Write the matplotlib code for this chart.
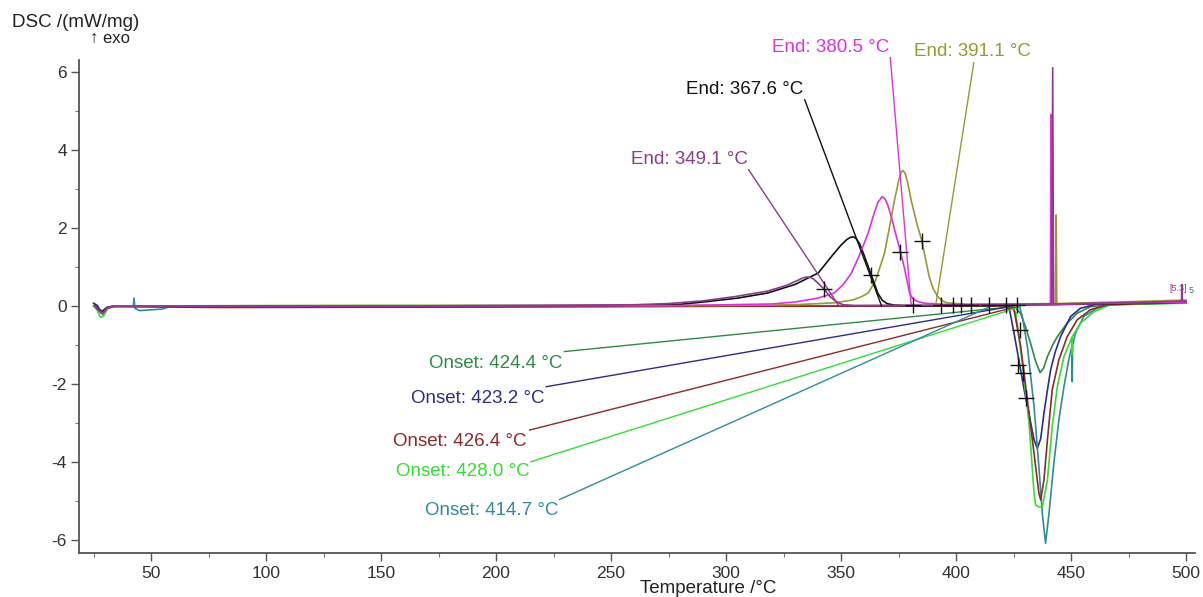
import matplotlib
matplotlib.use("Agg")
import matplotlib.pyplot as plt
from matplotlib.ticker import MultipleLocator

plt.rcParams['font.family'] = ['Liberation Sans', 'DejaVu Sans']
plt.rcParams['axes.unicode_minus'] = False

# ---- DSC curves: (temperature / °C, DSC / (mW/mg)) ----
curve_purple = [(25.5, 0.0), (27, -0.1), (29, -0.18), (31, -0.06), (34, -0.01), (80, 0.0),
                (150, 0.0), (220, 0.01), (260, 0.03), (275, 0.06), (290, 0.13), (304, 0.24),
                (318, 0.38), (326, 0.52), (331, 0.65), (333.5, 0.72), (335, 0.74), (336.8, 0.73),
                (338, 0.69), (340, 0.58), (342.7, 0.43), (345, 0.25), (348, 0.10), (351, 0.03),
                (356, 0.01), (400, 0.02), (441.6, 0.05), (442.0, 6.10), (442.4, 0.05),
                (470, 0.08), (498, 0.12), (498.2, 0.55), (498.4, 0.12), (500, 0.12)]
curve_black = [(25.5, 0.02), (27, -0.08), (29, -0.15), (31, -0.04), (34, 0.0), (150, 0.0),
               (250, 0.01), (280, 0.04), (290, 0.1), (305, 0.2), (318, 0.33), (330, 0.55),
               (340, 0.84), (347, 1.35), (350, 1.56), (352.5, 1.7), (354.2, 1.76), (355.4, 1.77),
               (356.6, 1.72), (358, 1.6), (360, 1.3), (363.2, 0.78), (366, 0.32), (368, 0.14),
               (370, 0.06), (373, 0.02), (380, 0.0), (440, 0.03), (470, 0.06), (500, 0.1)]
curve_magenta = [(25.5, 0.0), (27, -0.1), (29, -0.2), (31, -0.05), (34, 0.0), (150, 0.0),
                 (280, 0.01), (320, 0.05), (330, 0.1), (340, 0.2), (347, 0.33), (351, 0.55),
                 (354.5, 0.84), (358, 1.3), (361.8, 1.87), (364, 2.3), (366, 2.65), (367.9, 2.8),
                 (369.2, 2.74), (370.5, 2.55), (371.8, 2.29), (373.5, 1.9), (375.8, 1.39),
                 (377.5, 0.98), (379.7, 0.35), (381, 0.2), (383, 0.12), (386, 0.07), (395, 0.04),
                 (441.0, 0.04), (441.3, 4.9), (441.7, 0.04), (470, 0.07), (500, 0.1)]
curve_olive = [(25.5, 0.0), (27, -0.08), (29, -0.14), (31, -0.04), (34, 0.0), (150, 0.01),
               (300, 0.01), (330, 0.03), (347, 0.08), (355, 0.15), (359, 0.24), (361.8, 0.33),
               (365, 0.65), (368.9, 1.35), (371, 2.0), (373.2, 2.7), (375, 3.2), (376.1, 3.42),
               (376.9, 3.47), (377.8, 3.4), (379, 3.15), (380.5, 2.7), (383, 2.1), (385.1, 1.67),
               (388.3, 0.75), (390, 0.45), (392, 0.24), (394, 0.13), (396, 0.08), (405, 0.04),
               (443.2, 0.06), (443.5, 2.33), (443.8, 0.06), (470, 0.1), (500, 0.15)]
curve_darkgreen = [(25.5, 0.0), (27, -0.12), (29, -0.22), (31, -0.06), (34, 0.0), (150, -0.01),
                   (300, 0.0), (420, 0.0), (424.4, -0.02), (426, -0.06), (428, -0.19),
                   (430, -0.5), (432.4, -0.96), (434.5, -1.4), (436.5, -1.71), (438, -1.6),
                   (439.7, -1.3), (442, -1.0), (444, -0.79), (448.3, -0.44), (452.6, -0.19),
                   (458.4, -0.02), (470, 0.05), (500, 0.08)]
curve_darkblue = [(25, 0.07), (26.5, 0.02), (28.4, -0.15), (30.5, -0.05), (34, 0.0), (150, 0.0),
                  (300, 0.0), (415, 0.01), (421, 0.0), (423.2, -0.08), (425.2, -0.7),
                  (427.5, -1.45), (429.6, -2.15), (431.8, -2.8), (433.9, -3.43), (435.3, -3.65),
                  (436.8, -3.4), (438.2, -2.75), (439.6, -2.2), (441.1, -1.64), (443, -1.2),
                  (445.4, -0.79), (449.8, -0.27), (454.1, -0.06), (461.3, 0.05), (500, 0.1)]
curve_brown = [(25.5, 0.0), (27, -0.1), (29, -0.17), (31, -0.04), (34, -0.02), (80, -0.04),
               (200, -0.03), (300, -0.01), (420, 0.0), (424, -0.02), (425.2, -0.1),
               (428.1, -1.04), (431, -2.41), (433.9, -3.78), (436, -4.8), (436.8, -4.97),
               (438.2, -4.46), (439.7, -3.44), (441.8, -2.15), (444.7, -1.38), (448.3, -0.79),
               (452.6, -0.36), (458.4, -0.1), (465.6, 0.03), (500, 0.09)]
curve_green = [(25, 0.0), (26.5, -0.1), (28, -0.3), (29.5, -0.25), (31, -0.08), (34, 0.0),
               (150, 0.01), (300, 0.0), (420, 0.0), (424.5, -0.02), (426, -0.19), (428.8, -1.47),
               (431.7, -3.0), (433.9, -4.8), (434.6, -5.1), (436, -5.15), (437.5, -5.15),
               (439.7, -4.46), (441.8, -3.1), (444, -2.07), (446.9, -1.3), (450.4, -0.8),
               (450.5, -1.25), (450.6, -0.78), (454.1, -0.44), (459.9, -0.15), (467.1, 0.03),
               (500, 0.07)]
curve_teal = [(25, 0.0), (27, -0.08), (29, -0.14), (31, -0.04), (34, -0.01), (42.3, 0.0),
              (42.6, 0.2), (43, -0.06), (45, -0.12), (50, -0.1), (55, -0.08), (58, -0.02),
              (62, 0.0), (150, 0.0), (300, 0.0), (414.7, 0.0), (425, 0.02), (427.4, 0.03),
              (428.8, -0.27), (431, -1.04), (433.9, -2.58), (436, -4.12), (437.5, -5.32),
              (438.9, -6.08), (440.4, -5.32), (442.5, -4.03), (444.7, -2.92), (446.9, -2.07),
              (449, -1.38), (450.3, -1.05), (450.5, -1.94), (450.7, -1.0), (451.9, -0.70),
              (455.5, -0.27), (461.3, -0.06), (467.1, 0.03), (500, 0.08)]

# drawing order (back to front) and colours
curves = [curve_darkgreen, curve_darkblue, curve_teal, curve_green, curve_brown,
          curve_olive, curve_black, curve_magenta, curve_purple]
curve_colors = ['#2f8a45', '#2c2c8c', '#2e8c9c', '#33dd33', '#8c2a2a',
                '#999933', '#111111', '#e030e0', '#8e3a8e']

# ---- exothermic end temperatures ----
end_temps = [349.1, 367.6, 380.5, 391.1]
end_colors = ['#8e3a8e', '#111111', '#e030e0', '#999933']
end_line_start = [(309.8, 3.49), (334.2, 5.28), (371.4, 6.36), (407.7, 6.23)]
end_text_pos = [(309.5, 3.74), (333.6, 5.54), (371.1, 6.61), (381.7, 6.52)]
end_text_ha = ['right', 'right', 'right', 'left']

# ---- endothermic onset temperatures ----
onset_temps = [424.4, 423.2, 426.4, 428.0, 414.7]
onset_colors = ['#2f8a45', '#2c2c8c', '#8c2a2a', '#33dd33', '#2e8c9c']
onset_line_start = [(229.7, -1.17), (221.8, -2.07), (214.6, -3.18), (215.2, -3.99), (227.6, -4.96)]
onset_text_pos = [(229.0, -1.47), (221.1, -2.37), (213.4, -3.48), (214.7, -4.25), (227.3, -5.25)]

# characteristic points marked with crosses
cross_T = [342.7, 363.2, 375.8, 385.1, 427.8, 426.8, 429.3, 430.3,
           381.4, 393.5, 398.7, 402.1, 406.5, 414.3, 421.6, 426.6]
cross_v = [0.43, 0.78, 1.39, 1.67, -0.62, -1.51, -1.73, -2.36,
           0.02, 0.02, 0.02, 0.02, 0.02, 0.02, 0.02, 0.02]

fig = plt.figure(figsize=(12.03, 5.97), dpi=100)
ax = fig.add_axes([0.0659, 0.0737, 0.9275, 0.8258])

for data, col in zip(curves, curve_colors):
    T = [p[0] for p in data]
    v = [p[1] for p in data]
    ax.plot(T, v, color=col, lw=1.2, solid_joinstyle='round')

text_kw = dict(fontsize=13.5, va='center')
for t_end, col, (x0, y0), (tx, ty), ha in zip(end_temps, end_colors, end_line_start,
                                              end_text_pos, end_text_ha):
    ax.plot([x0, t_end], [y0, 0.0], color=col, lw=1.0, clip_on=False)
    ax.text(tx, ty, f'End: {t_end:.1f} °C', color=col, ha=ha, clip_on=False, **text_kw)

for t_on, col, (x0, y0), (tx, ty) in zip(onset_temps, onset_colors, onset_line_start,
                                         onset_text_pos):
    ax.plot([x0, t_on], [y0, -0.02], color=col, lw=1.0)
    ax.text(tx, ty, f'Onset: {t_on:.1f} °C', color=col, ha='right', **text_kw)

ax.plot(cross_T, cross_v, linestyle='none', marker='+', markersize=12,
        markeredgewidth=1.0, color='#111111')

# segment markers at the end of the runs
ax.text(500.6, 0.45, '[5.3]', fontsize=6.5, color='#993399', va='center', ha='right',
        clip_on=False)
ax.text(500.9, 0.40, '5', fontsize=6.5, color='#2f8a45', va='center', ha='left', clip_on=False)

ax.set_xlim(18.8, 503.9)
ax.set_ylim(-6.33, 6.30)
ax.xaxis.set_major_locator(MultipleLocator(50))
ax.xaxis.set_minor_locator(MultipleLocator(25))
ax.yaxis.set_major_locator(MultipleLocator(2))
ax.yaxis.set_minor_locator(MultipleLocator(1))
ax.set_xticks([50, 100, 150, 200, 250, 300, 350, 400, 450, 500])

for s in ('top', 'right'):
    ax.spines[s].set_visible(False)
for s in ('left', 'bottom'):
    ax.spines[s].set_color('#555555')
    ax.spines[s].set_linewidth(1.3)
ax.tick_params(which='major', direction='out', length=6, width=1.0, color='#555555',
               labelsize=12.5, labelcolor='#333333', pad=3)
ax.tick_params(which='minor', direction='out', length=3, width=0.8, color='#777777')

fig.text(0.010, 0.962, 'DSC /(mW/mg)', fontsize=13.5, color='#222222', va='center', ha='left')
fig.text(0.075, 0.936, '↑ exo', fontsize=12, color='#222222', va='center', ha='left')
fig.text(0.589, 0.014, 'Temperature /°C', fontsize=13.5, color='#222222', va='center',
         ha='center')

fig.savefig('out.png', dpi=100)
